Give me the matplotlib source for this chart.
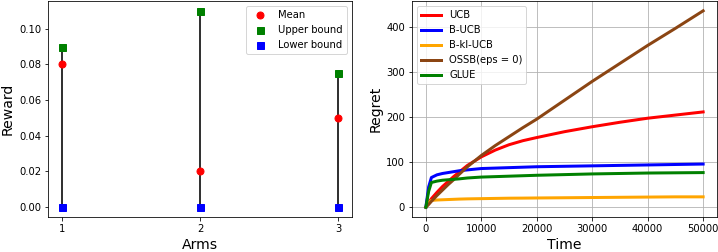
import numpy as np
import matplotlib
matplotlib.use("Agg")
import matplotlib.pyplot as plt

# left panel: reward per arm
arms = [1, 2, 3]
mean_reward = [0.08, 0.02, 0.05]
upper_bound = [0.09, 0.11, 0.075]
lower_bound = [0.0, 0.0, 0.0]

# right panel: cumulative regret over time
time = [0, 500, 1000, 2000, 3000, 4000, 5000, 6000, 7500, 10000, 12500, 15000,
        17500, 20000, 25000, 30000, 35000, 40000, 45000, 50000]
regret_ucb = [0, 10, 19, 33, 46, 57, 68, 78, 93, 112, 127, 139,
              148, 155, 168, 179, 189, 198, 205, 212]
regret_bucb = [0, 45, 66, 72, 75, 77, 79, 81, 83, 86, 87, 88,
               89, 90, 91, 92, 93, 94, 95, 96]
regret_bklucb = [0, 10, 15, 16, 16.5, 17, 17.5, 18, 18.5, 19, 19.5, 20,
                 20.2, 20.5, 21, 21.5, 22, 22.5, 23, 23]
regret_ossb = [0, 6, 13, 26, 38, 50, 61, 73, 90, 115, 137, 157,
               177, 196, 238, 280, 320, 360, 398, 437]
regret_glue = [0, 35, 55, 58, 60, 61, 62, 63, 65, 67, 68, 69,
               70, 71, 72.5, 74, 75, 76, 76.5, 77]

series = [
    ("UCB", regret_ucb, "red"),
    ("B-UCB", regret_bucb, "blue"),
    ("B-kl-UCB", regret_bklucb, "orange"),
    ("OSSB(eps = 0)", regret_ossb, "#8B4513"),
    ("GLUE", regret_glue, "green"),
]

fig = plt.figure(figsize=(718 / 72, 252 / 72), dpi=72)

# left
ax1 = fig.add_axes([48 / 718, 35 / 252, 304 / 718, 216 / 252])
ax1.vlines(arms, lower_bound, upper_bound, color="0.2", linewidth=2)
ax1.plot(arms, mean_reward, "o", color="red", markersize=7, label="Mean")
ax1.plot(arms, upper_bound, "s", color="green", markersize=7, label="Upper bound")
ax1.plot(arms, lower_bound, "s", color="blue", markersize=7, label="Lower bound")
ax1.set_xticks(arms)
ax1.set_xlabel("Arms", fontsize=14)
ax1.set_ylabel("Reward", fontsize=14)
ax1.legend(loc="upper right", fontsize=10)

# right
ax2 = fig.add_axes([412 / 718, 35 / 252, 305 / 718, 216 / 252])
for name, vals, col in series:
    ax2.plot(time, vals, color=col, linewidth=3, label=name)
ax2.grid(True)
ax2.set_xticks([0, 10000, 20000, 30000, 40000, 50000])
ax2.set_yticks([0, 100, 200, 300, 400])
ax2.set_xlabel("Time", fontsize=14)
ax2.set_ylabel("Regret", fontsize=14)
ax2.legend(loc="upper left", fontsize=10)

fig.savefig("out.png", dpi=72)
